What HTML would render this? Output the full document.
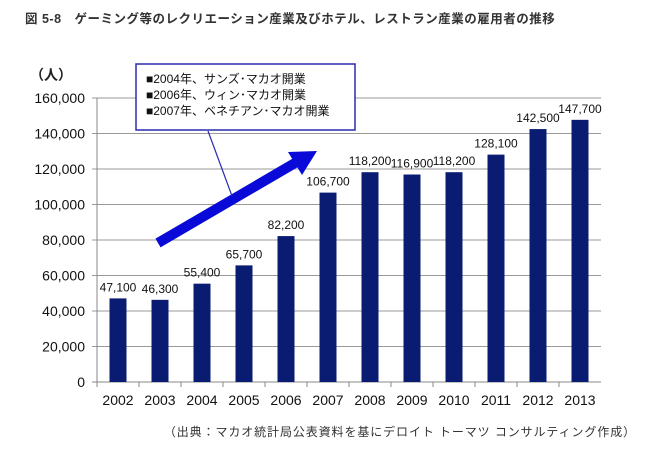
<!DOCTYPE html>
<html><head><meta charset="utf-8"><style>
body{margin:0;background:#fff;width:650px;height:445px;overflow:hidden}
svg{font-family:"Liberation Sans","Noto Sans CJK JP",sans-serif}
</style></head><body>
<svg id="c" width="650" height="445">
<text x="25" y="23" font-size="12.5" font-weight="bold" fill="#333" letter-spacing="0.5">図 5-8　ゲーミング等のレクリエーション産業及びホテル、レストラン産業の雇用者の推移</text>
<text x="30" y="80" font-size="14" font-weight="bold" fill="#222">（人）</text>
<g id="grid"></g><g id="bars"></g><g id="labels"></g>
<line x1="158" y1="243" x2="295" y2="163" stroke="#0a0ad8" stroke-width="10"/>
<polygon points="317,151 288,152 302,175" fill="#0a0ad8"/>
<line x1="208" y1="131" x2="232" y2="196" stroke="#2b2bb0" stroke-width="1.2"/>
<rect x="136" y="64" width="219" height="66" fill="#fff" stroke="#2b2bb0" stroke-width="1.5"/>
<g font-size="12" fill="#111">
<text x="146" y="83">■2004年、サンズ･マカオ開業</text>
<text x="146" y="99">■2006年、ウィン･マカオ開業</text>
<text x="146" y="115">■2007年、ベネチアン･マカオ開業</text>
</g>
<text x="636" y="436" font-size="12" fill="#333" text-anchor="end" letter-spacing="0.9">（出典：マカオ統計局公表資料を基にデロイト トーマツ コンサルティング作成）</text>
</svg>
<script>
const years=["2002","2003","2004","2005","2006","2007","2008","2009","2010","2011","2012","2013"];
const values=[47100,46300,55400,65700,82200,106700,118200,116900,118200,128100,142500,147700];
const yTicks=[0,20000,40000,60000,80000,100000,120000,140000,160000];
const NS="http://www.w3.org/2000/svg";
const x0=97,step=42,y0=382,yMax=160000,h=284;
const Y=v=>y0-v/yMax*h, X=i=>x0+step*(i+0.5);
function mk(t,a,p){const e=document.createElementNS(NS,t);for(const k in a)e.setAttribute(k,a[k]);p.appendChild(e);return e;}
const fmt=v=>v.toLocaleString('en-US');
const g=document.getElementById('grid'),b=document.getElementById('bars'),l=document.getElementById('labels');
yTicks.forEach(v=>{
 const ln=mk('line',{x1:x0-5,x2:x0+step*years.length,y1:Y(v),y2:Y(v),stroke:v?'#9a9a9a':'#888','stroke-width':1},g);
 
 
 const t=mk('text',{x:x0-12,y:Y(v)+5,'font-size':14,'text-anchor':'end',fill:'#111'},g);t.textContent=fmt(v);
 
 
});
const ax=mk('line',{x1:x0,x2:x0,y1:Y(yMax),y2:y0,stroke:'#888'},g);


years.forEach((yr,i)=>{
 const tk=mk('line',{x1:x0+step*i,x2:x0+step*i,y1:y0,y2:y0+5,stroke:'#888'},g);
 
 
 const r=mk('rect',{x:X(i)-8.5,y:Y(values[i]),width:17,height:y0-Y(values[i]),fill:'#0a1c72'},b);
 
 
 const t=mk('text',{x:X(i),y:Y(values[i])-7,'font-size':12,'text-anchor':'middle',fill:'#111'},l);t.textContent=fmt(values[i]);
 
 
 const xt=mk('text',{x:X(i),y:405,'font-size':14,'text-anchor':'middle',fill:'#111'},l);xt.textContent=yr;
 
 
});
</script>
</body></html>
